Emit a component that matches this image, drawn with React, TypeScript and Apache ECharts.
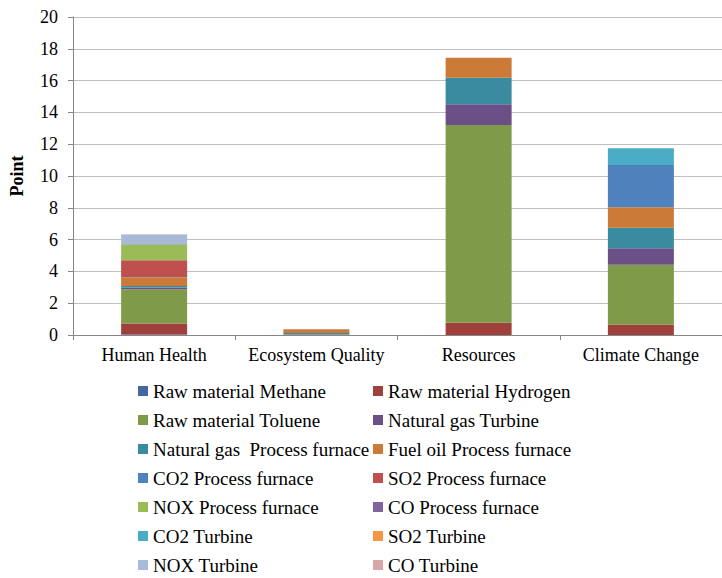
import React, { useEffect, useRef } from "react";
import * as echarts from "echarts";

const categories = ["Human Health", "Ecosystem Quality", "Resources", "Climate Change"];
const yTicks = [0, 20, 2];

const seriesNames = [
  "Raw material Methane",
  "Raw material Hydrogen",
  "Raw material Toluene",
  "Natural gas Turbine",
  "Natural gas  Process furnace",
  "Fuel oil Process furnace",
  "CO2 Process furnace",
  "SO2 Process furnace",
  "NOX Process furnace",
  "CO Process furnace",
  "CO2 Turbine",
  "SO2 Turbine",
  "NOX Turbine",
  "CO Turbine",
];

const seriesColors = [
  "#44699F", "#A0403D", "#7F9A48", "#6A5087", "#3A8BA0", "#CC7A37", "#4F81BD",
  "#C0504D", "#9BBB59", "#8064A2", "#4BACC6", "#F79646", "#A9B9D8", "#D9A6A5",
];

const rawMethane = [0.03, 0.0, 0.0, 0.0];
const rawHydrogen = [0.7, 0.01, 0.77, 0.65];
const rawToluene = [2.15, 0.02, 12.43, 3.77];
const ngTurbine = [0.1, 0.01, 1.31, 1.03];
const ngFurnace = [0.1, 0.08, 1.67, 1.3];
const fuelOil = [0.55, 0.24, 1.26, 1.28];
const co2Furnace = [0.02, 0.0, 0.0, 2.66];
const so2Furnace = [1.05, 0.0, 0.0, 0.0];
const noxFurnace = [0.96, 0.0, 0.0, 0.0];
const coFurnace = [0.02, 0.0, 0.0, 0.0];
const co2Turbine = [0.02, 0.0, 0.0, 1.05];
const so2Turbine = [0.02, 0.0, 0.0, 0.0];
const noxTurbine = [0.6, 0.0, 0.0, 0.0];
const coTurbine = [0.02, 0.0, 0.0, 0.0];

const seriesValues = [
  rawMethane, rawHydrogen, rawToluene, ngTurbine, ngFurnace, fuelOil, co2Furnace,
  so2Furnace, noxFurnace, coFurnace, co2Turbine, so2Turbine, noxTurbine, coTurbine,
];

const FONT = "Liberation Serif";

export default function App() {
  const ref = useRef<HTMLDivElement>(null);
  useEffect(() => {
    if (!ref.current) return;
    const chart = echarts.init(ref.current, null, { renderer: "svg" });
    const leftNames = seriesNames.filter((_, i) => i % 2 === 0);
    const rightNames = seriesNames.filter((_, i) => i % 2 === 1);
    const legendBase = {
      orient: "vertical" as const,
      top: 381,
      itemWidth: 10,
      itemHeight: 10,
      itemGap: 9,
      icon: "rect",
      padding: 0,
      selectedMode: false,
      textStyle: { fontFamily: FONT, fontSize: 19, color: "#000", lineHeight: 20, padding: [0, 0, 0, 0] },
    };
    chart.setOption({
      animation: false,
      backgroundColor: "#fff",
      textStyle: { fontFamily: FONT },
      grid: { left: 68, right: -8, top: 17, bottom: 243, containLabel: false },
      legend: [
        { ...legendBase, left: 138, data: leftNames },
        { ...legendBase, left: 373, data: rightNames },
      ],
      xAxis: {
        type: "category",
        data: categories,
        axisLine: { lineStyle: { color: "#868686", width: 1 } },
        axisTick: { show: true, alignWithLabel: false, length: 5, lineStyle: { color: "#868686" } },
        axisLabel: { interval: 0, fontFamily: FONT, fontSize: 18, color: "#000", margin: 11 },
      },
      yAxis: {
        type: "value",
        min: yTicks[0],
        max: yTicks[1],
        interval: yTicks[2],
        name: "Point",
        nameLocation: "middle",
        nameGap: 47,
        nameTextStyle: { fontFamily: FONT, fontSize: 18, fontWeight: "bold", color: "#000" },
        axisLine: { show: true, lineStyle: { color: "#868686", width: 1 } },
        axisTick: { show: true, length: 5, lineStyle: { color: "#868686" } },
        axisLabel: { fontFamily: FONT, fontSize: 18, color: "#000", margin: 15 },
        splitLine: { lineStyle: { color: "#BFBFBF", width: 1 } },
      },
      series: seriesNames.map((name, i) => ({
        name,
        type: "bar",
        stack: "total",
        barWidth: 66,
        itemStyle: { color: seriesColors[i] },
        data: seriesValues[i],
      })),
    });
    return () => chart.dispose();
  }, []);
  return (
    <div
      ref={ref}
      style={{ position: "absolute", left: 0, top: 0, width: 722, height: 578 }}
    />
  );
}
